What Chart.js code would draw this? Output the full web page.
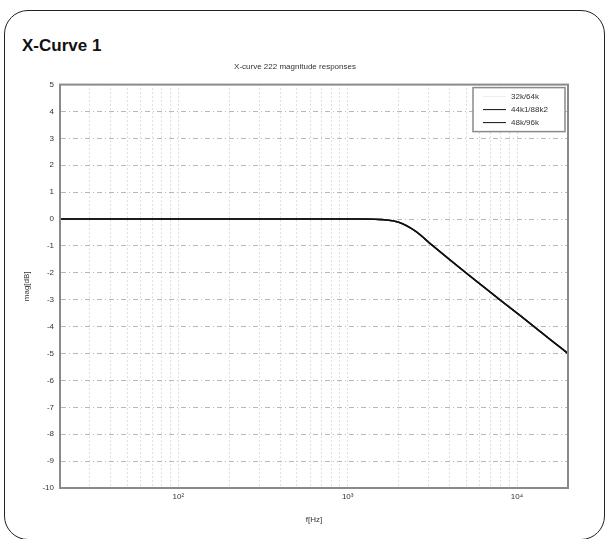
<!DOCTYPE html>
<html>
<head>
<meta charset="utf-8">
<script src="https://cdn.jsdelivr.net/npm/chart.js@4"></script>
<style>
  body { margin: 0; background: #fff; width: 609px; height: 539px; overflow: hidden; position: relative; font-family: "Liberation Sans", Arial, sans-serif; }
  .frame { position: absolute; left: 4px; top: 10px; width: 601px; height: 530px; border: 1.5px solid #222; border-radius: 24px; box-sizing: border-box; }
  .heading { position: absolute; left: 22px; top: 36px; font-size: 17px; font-weight: bold; color: #111; margin: 0; }
  #wrap { position: absolute; left: 0; top: 0; width: 609px; height: 539px; }
</style>
</head>
<body>
<div class="frame"></div>
<h1 class="heading">X-Curve 1</h1>
<div id="wrap"><canvas id="xcurve" width="609" height="539"></canvas></div>
<script>
// 頻率 (Hz) 與三組響應 (dB)
const freqs   = [20, 50, 100, 200, 500, 1000, 1250, 1600, 2000, 2500, 3150, 4000, 5000, 6300, 8000, 10000, 12500, 16000, 20000];
const resp32  = [0, 0, 0, 0, 0, 0, 0, -0.02, -0.12, -0.44, -0.97, -1.51, -2.0, -2.5, -3.02, -3.5, -3.98, -4.52, -5.0];
const resp44  = [0, 0, 0, 0, 0, 0, 0, -0.02, -0.12, -0.44, -0.97, -1.51, -2.0, -2.5, -3.02, -3.5, -3.98, -4.52, -5.0];
const resp48  = [0, 0, 0, 0, 0, 0, 0, -0.02, -0.12, -0.44, -0.97, -1.51, -2.0, -2.5, -3.02, -3.5, -3.98, -4.52, -5.0];
const seriesNames = ['32k/64k', '44k1/88k2', '48k/96k'];
const xTicks = [20, 30, 40, 50, 60, 70, 80, 90, 100, 200, 300, 400, 500, 600, 700, 800, 900,
                1000, 2000, 3000, 4000, 5000, 6000, 7000, 8000, 9000, 10000, 20000];
const xTickLabels = { 100: '10\u00b2', 1000: '10\u00b3', 10000: '10\u2074' };
const yTicks = [5, 4, 3, 2, 1, 0, -1, -2, -3, -4, -5, -6, -7, -8, -9, -10];

function toPoints(vals) {
    return freqs.map((f, i) => ({ x: f, y: vals[i] }));
}

// 外框 + 右上圖例
const boxAndLegend = {
    id: 'boxAndLegend',
    afterDraw(chart) {
        const { ctx, chartArea: a } = chart;
        ctx.save();
        ctx.strokeStyle = '#8a8a8a';
        ctx.lineWidth = 2;
        ctx.strokeRect(a.left, a.top, a.right - a.left, a.bottom - a.top);

        // 圖例框
        const lx = a.right - 95, ly = a.top + 3, lw = 92, lh = 44;
        ctx.fillStyle = '#fff';
        ctx.fillRect(lx, ly, lw, lh);
        ctx.strokeStyle = '#8a8a8a';
        ctx.lineWidth = 1.5;
        ctx.strokeRect(lx, ly, lw, lh);
        ctx.font = '8px "Liberation Sans", Arial, sans-serif';
        ctx.textBaseline = 'middle';
        chart.data.datasets.forEach((ds, i) => {
            const yy = ly + 9 + i * 13;
            ctx.strokeStyle = ds.borderColor;
            ctx.lineWidth = 1;
            ctx.beginPath();
            ctx.moveTo(lx + 10, yy);
            ctx.lineTo(lx + 33, yy);
            ctx.stroke();
            ctx.fillStyle = '#333';
            ctx.fillText(ds.label, lx + 38, yy);
        });
        ctx.restore();
    }
};

const tickFont = { family: '"Liberation Sans", Arial, sans-serif', size: 8 };

new Chart(document.getElementById('xcurve'), {
    type: 'line',
    data: {
        datasets: [
            // 32k 這條在原圖幾乎看不見，壓在最下層
            { label: seriesNames[0], data: toPoints(resp32), borderColor: '#ececec', order: 3 },
            { label: seriesNames[1], data: toPoints(resp44), borderColor: '#111', order: 2 },
            { label: seriesNames[2], data: toPoints(resp48), borderColor: '#111', order: 1 }
        ].map(d => Object.assign(d, {
            borderWidth: 1.6,
            pointRadius: 0,
            fill: false,
            cubicInterpolationMode: 'monotone'
        }))
    },
    options: {
        responsive: false,
        animation: false,
        devicePixelRatio: 1,
        layout: { padding: { left: 22, right: 41, top: 62, bottom: 14 } },
        plugins: {
            legend: { display: false },
            tooltip: { enabled: false },
            title: {
                display: true,
                text: 'X-curve 222 magnitude responses',
                color: '#333',
                font: { family: '"Liberation Sans", Arial, sans-serif', size: 8, weight: 'normal' },
                padding: { top: 0, bottom: 13 }
            }
        },
        scales: {
            x: {
                type: 'logarithmic',
                min: 20,
                max: 20000,
                afterBuildTicks: s => { s.ticks = xTicks.map(v => ({ value: v })); },
                afterFit: s => { s.height = 37; },
                ticks: {
                    autoSkip: false,
                    maxRotation: 0,
                    color: '#333',
                    font: tickFont,
                    padding: 4,
                    callback: v => xTickLabels[v] || ''
                },
                grid: { color: '#c0c0c0', lineWidth: 1, drawTicks: false },
                border: { display: true, color: '#8a8a8a', width: 2, dash: [1, 3] },
                title: { display: true, text: 'f[Hz]', color: '#333', font: tickFont, padding: { top: 3, bottom: 0 } }
            },
            y: {
                min: -10,
                max: 5,
                afterBuildTicks: s => { s.ticks = yTicks.map(v => ({ value: v })); },
                afterFit: s => { s.width = 38; },
                ticks: { color: '#333', font: tickFont, padding: 6 },
                grid: { color: '#b8b8b8', lineWidth: 1, drawTicks: false },
                border: { display: true, color: '#8a8a8a', width: 2, dash: [5, 3, 1, 3] },
                title: { display: true, text: 'mag[dB]', color: '#333', font: tickFont, padding: { top: 0, bottom: 4 } }
            }
        }
    },
    plugins: [boxAndLegend]
});
</script>
</body>
</html>
